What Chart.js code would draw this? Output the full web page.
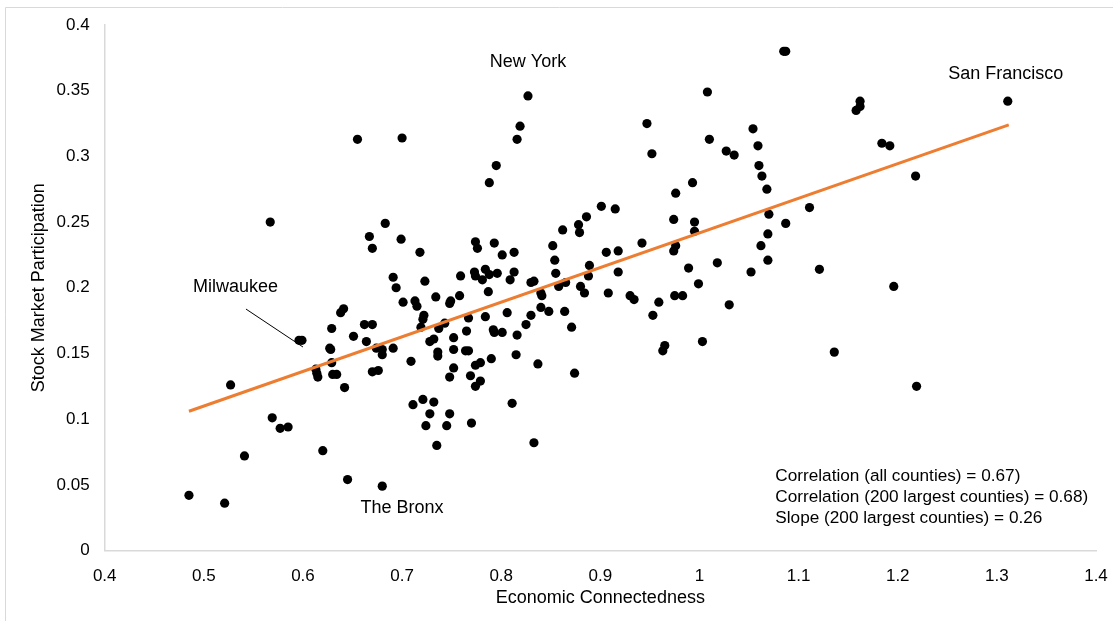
<!DOCTYPE html>
<html>
<head>
<meta charset="utf-8">
<script src="https://cdn.jsdelivr.net/npm/chart.js@4.4.1/dist/chart.umd.min.js"></script>
<style>
  html, body { margin: 0; padding: 0; background: #fff; }
  canvas { display: block; }
</style>
</head>
<body>
<canvas id="chart" width="1113" height="621"></canvas>
<script>
// County-level economic connectedness vs. stock market participation
const econConnectedness = [
  0.485, 0.521, 0.527, 0.541, 0.569, 0.577, 0.585, 0.567, 0.596, 0.599,
  0.613, 0.615, 0.614, 0.620, 0.627, 0.628, 0.629, 0.629, 0.630, 0.634,
  0.638, 0.641, 0.642, 0.645, 0.651, 0.655, 0.662, 0.664, 0.667, 0.670,
  0.670, 0.670, 0.676, 0.674, 0.680, 0.680, 0.680, 0.683, 0.691, 0.691,
  0.694, 0.699, 0.700, 0.701, 0.709, 0.711, 0.713, 0.715, 0.718, 0.719,
  0.721, 0.722, 0.721, 0.723, 0.724, 0.728, 0.728, 0.732, 0.732, 0.734,
  0.735, 0.736, 0.736, 0.737, 0.743, 0.745, 0.748, 0.748, 0.749, 0.748,
  0.752, 0.752, 0.752, 0.758, 0.759, 0.765, 0.764, 0.767, 0.767, 0.769,
  0.770, 0.773, 0.774, 0.774, 0.776, 0.774, 0.779, 0.774, 0.779, 0.781,
  0.784, 0.784, 0.787, 0.788, 0.788, 0.796, 0.790, 0.792, 0.793, 0.793,
  0.795, 0.801, 0.801, 0.806, 0.809, 0.811, 0.813, 0.813, 0.815, 0.816,
  0.816, 0.819, 0.825, 0.827, 0.830, 0.833, 0.830, 0.833, 0.837, 0.840,
  0.841, 0.840, 0.848, 0.852, 0.854, 0.855, 0.858, 0.862, 0.865, 0.864,
  0.871, 0.874, 0.878, 0.879, 0.880, 0.884, 0.886, 0.888, 0.889, 0.901,
  0.906, 0.908, 0.915, 0.918, 0.918, 0.930, 0.934, 0.942, 0.947, 0.952,
  0.953, 0.959, 0.963, 0.965, 0.974, 0.976, 0.976, 0.974, 0.975, 0.983,
  0.989, 0.993, 0.995, 0.995, 0.999, 1.003, 1.008, 1.010, 1.018, 1.027,
  1.035, 1.030, 1.052, 1.054, 1.059, 1.060, 1.063, 1.068, 1.070, 1.069,
  1.062, 1.069, 1.085, 1.087, 1.087, 1.111, 1.121, 1.136, 1.158, 1.162,
  1.162, 1.184, 1.192, 1.196, 1.218, 1.219, 1.311
];
const stockParticipation = [
  0.042, 0.036, 0.126, 0.072, 0.101, 0.093, 0.094, 0.250, 0.160, 0.160,
  0.138, 0.132, 0.135, 0.076, 0.154, 0.153, 0.169, 0.143, 0.134, 0.134,
  0.181, 0.184, 0.124, 0.054, 0.163, 0.313, 0.172, 0.159, 0.239, 0.230,
  0.172, 0.136, 0.137, 0.154, 0.153, 0.149, 0.049, 0.249, 0.154, 0.208,
  0.200, 0.237, 0.314, 0.189, 0.144, 0.111, 0.190, 0.186, 0.227, 0.170,
  0.115, 0.179, 0.176, 0.205, 0.095, 0.104, 0.159, 0.113, 0.161, 0.193,
  0.080, 0.151, 0.148, 0.169, 0.173, 0.095, 0.104, 0.188, 0.190, 0.132,
  0.153, 0.139, 0.162, 0.194, 0.209, 0.167, 0.152, 0.152, 0.177, 0.133,
  0.097, 0.212, 0.209, 0.235, 0.230, 0.141, 0.143, 0.125, 0.129, 0.206,
  0.178, 0.214, 0.197, 0.280, 0.210, 0.211, 0.146, 0.168, 0.166, 0.234,
  0.293, 0.225, 0.166, 0.181, 0.206, 0.112, 0.227, 0.212, 0.149, 0.313,
  0.164, 0.323, 0.172, 0.346, 0.204, 0.205, 0.179, 0.082, 0.142, 0.196,
  0.194, 0.185, 0.182, 0.232, 0.221, 0.211, 0.201, 0.244, 0.204, 0.182,
  0.170, 0.135, 0.248, 0.242, 0.201, 0.196, 0.254, 0.209, 0.217, 0.262,
  0.227, 0.196, 0.260, 0.228, 0.212, 0.194, 0.191, 0.234, 0.325, 0.302,
  0.179, 0.189, 0.152, 0.156, 0.252, 0.272, 0.232, 0.228, 0.194, 0.194,
  0.215, 0.280, 0.250, 0.243, 0.203, 0.159, 0.349, 0.313, 0.219, 0.304,
  0.301, 0.187, 0.212, 0.321, 0.308, 0.293, 0.285, 0.275, 0.256, 0.241,
  0.232, 0.221, 0.380, 0.380, 0.249, 0.261, 0.214, 0.151, 0.335, 0.338,
  0.342, 0.310, 0.308, 0.201, 0.285, 0.125, 0.342
];

// Fitted line through the 200 largest counties (end points)
const trendX = [0.485, 1.312];
const trendY = [0.106, 0.324];

// Axis tick labels
const xTickLabels = ['0.4', '0.5', '0.6', '0.7', '0.8', '0.9', '1', '1.1', '1.2', '1.3', '1.4'];
const yTickLabels = ['0', '0.05', '0.1', '0.15', '0.2', '0.25', '0.3', '0.35', '0.4'];

// Named counties, placed in data units
const cityNames = ['New York', 'San Francisco', 'The Bronx', 'Milwaukee'];
const cityLabelX = [0.827, 1.309, 0.700, 0.532];
const cityLabelY = [0.372, 0.363, 0.032, 0.2006];

// Pointer from the Milwaukee label to its marker
const pointerX = [0.5425, 0.600];
const pointerY = [0.1838, 0.1549];

// Summary statistics block (left edge and baselines in data units)
const statLines = [
  'Correlation (all counties) = 0.67)',
  'Correlation (200 largest counties) = 0.68)',
  'Slope (200 largest counties) = 0.26'
];
const statX = 1.0765;
const statY = [0.0529, 0.0369, 0.0209];

const FONT = '"Liberation Sans", Arial, Helvetica, sans-serif';
const PLOT_RIGHT = 1096;

const annotate = {
  id: 'annotate',
  beforeDraw(chart) {
    const ctx = chart.ctx;
    ctx.save();
    ctx.fillStyle = '#ffffff';
    ctx.fillRect(0, 0, chart.width, chart.height);
    // chart frame
    ctx.strokeStyle = '#d9d9d9';
    ctx.lineWidth = 1;
    ctx.beginPath();
    ctx.moveTo(5.5, chart.height);
    ctx.lineTo(5.5, 7.5);
    ctx.lineTo(chart.width, 7.5);
    ctx.stroke();
    ctx.restore();
  },
  afterDatasetsDraw(chart) {
    const { ctx, scales: { x, y } } = chart;
    ctx.save();
    ctx.fillStyle = '#000';
    ctx.font = '18px ' + FONT;
    ctx.textAlign = 'center';
    ctx.textBaseline = 'middle';
    cityNames.forEach((name, i) => {
      ctx.fillText(name, x.getPixelForValue(cityLabelX[i]), y.getPixelForValue(cityLabelY[i]));
    });
    ctx.strokeStyle = '#000';
    ctx.lineWidth = 1;
    ctx.beginPath();
    ctx.moveTo(x.getPixelForValue(pointerX[0]), y.getPixelForValue(pointerY[0]));
    ctx.lineTo(x.getPixelForValue(pointerX[1]), y.getPixelForValue(pointerY[1]));
    ctx.stroke();

    ctx.font = '17.2px ' + FONT;
    ctx.textAlign = 'left';
    ctx.textBaseline = 'alphabetic';
    statLines.forEach((line, i) => {
      ctx.fillText(line, x.getPixelForValue(statX), y.getPixelForValue(statY[i]));
    });
    ctx.restore();
  }
};

let padRight = 17;

const chart = new Chart(document.getElementById('chart'), {
  type: 'scatter',
  data: {
    datasets: [
      {
        label: 'Trend',
        data: trendX.map((v, i) => ({ x: v, y: trendY[i] })),
        showLine: true,
        borderColor: '#ED7D31',
        borderWidth: 3,
        pointRadius: 0,
        fill: false,
        order: 0
      },
      {
        label: 'Counties',
        data: econConnectedness.map((v, i) => ({ x: v, y: stockParticipation[i] })),
        backgroundColor: '#000',
        borderColor: '#000',
        borderWidth: 0,
        pointRadius: 4.6,
        order: 1
      }
    ]
  },
  options: {
    responsive: false,
    animation: false,
    devicePixelRatio: 1,
    layout: { padding: { top: 25, right: padRight, bottom: 0, left: 0 } },
    plugins: { legend: { display: false }, tooltip: { enabled: false } },
    scales: {
      x: {
        type: 'linear',
        min: 0.4,
        max: 1.4,
        grid: { display: false },
        border: { display: true, color: '#d9d9d9', width: 1.5 },
        ticks: {
          stepSize: 0.1,
          autoSkip: false,
          maxRotation: 0,
          padding: 8,
          color: '#000',
          font: { family: FONT, size: 17 },
          callback: (v, i) => xTickLabels[i]
        },
        title: {
          display: true,
          text: 'Economic Connectedness',
          color: '#000',
          font: { family: FONT, size: 18 },
          padding: { top: 0, bottom: 12 }
        },
        afterFit(scale) {
          scale.height = 70.5;
          scale.paddingLeft = 0;
          scale.paddingRight = 0;
        }
      },
      y: {
        type: 'linear',
        min: 0,
        max: 0.4,
        grid: { display: false },
        border: { display: true, color: '#d9d9d9', width: 1.5 },
        ticks: {
          stepSize: 0.05,
          autoSkip: false,
          padding: 7,
          color: '#000',
          font: { family: FONT, size: 17 },
          callback: (v, i) => yTickLabels[i]
        },
        title: {
          display: true,
          text: 'Stock Market Participation',
          color: '#000',
          font: { family: FONT, size: 18 },
          padding: { top: 28, bottom: 0 }
        },
        afterFit(scale) { scale.width = 104.7; }
      }
    }
  },
  plugins: [annotate]
});

// pull the plot's right edge to its intended position
for (let k = 0; k < 8; k++) {
  const dx = PLOT_RIGHT - chart.chartArea.right;
  if (Math.abs(dx) < 0.05) break;
  padRight -= dx;
  chart.options.layout.padding = { top: 25, right: padRight, bottom: 0, left: 0 };
  chart.update();
}
</script>
</body>
</html>
